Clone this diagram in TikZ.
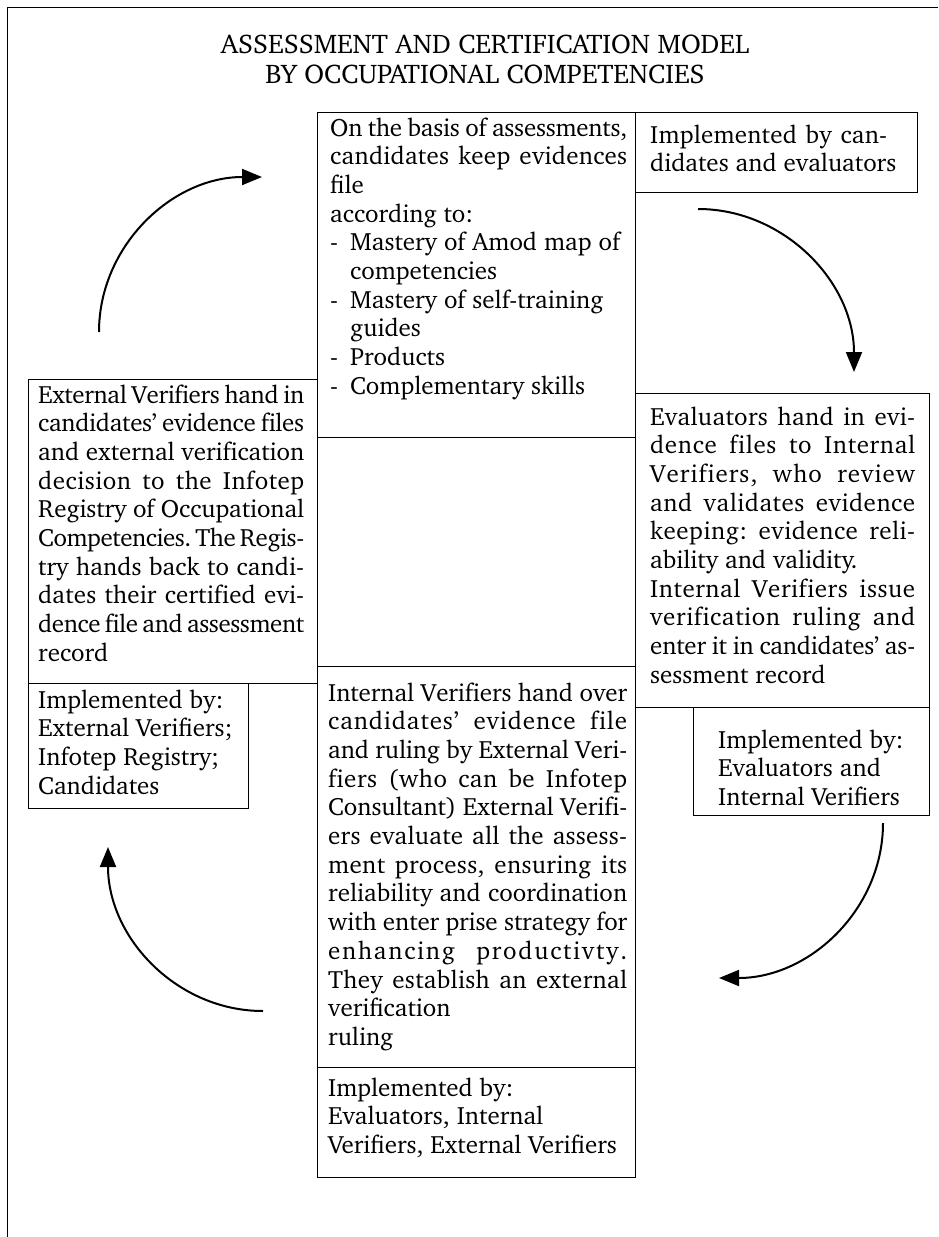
\documentclass[tikz,border=0pt]{standalone}
\usepackage[T1]{fontenc}
\usepackage{charter}
\usetikzlibrary{arrows.meta,calc}
% justified line: the extra room goes to word gaps and, a little, to letter gaps
\newcommand\wordgap{\hskip 0.28em plus 1fil minus 0.16em\relax}
\newcommand\lettergap{\hskip 0pt plus 0.12fil minus 0.025em\relax}
\def\spreadletters#1#2\end{#1\ifx\end#2\end\else\lettergap\spreadletters#2\end\fi}
\def\spreadwords#1 #2\end{\spreadletters#1\end\ifx\end#2\end\else\wordgap\spreadwords#2\end\fi}
\newcommand\jl[1]{\hbox to\hsize{\spreadwords#1 \end}}
% ragged line and dashed list entry
\newcommand\rl[1]{\hbox{#1}}
\newcommand\dashitem{\hbox to 20pt{-\hfil}}
\newcommand\para[2]{\vtop{\hsize=#1\baselineskip=28.7pt\lineskiplimit=-100pt #2}}
\begin{document}
\begin{tikzpicture}[x=1pt,y=-1pt,
  box/.style={draw=black, line width=1.1pt, inner sep=0pt, anchor=north west},
  txt/.style={inner sep=0pt, anchor=base west, font=\fontsize{25}{28.7}\selectfont},
  cyc/.style={line width=2pt, -{Triangle[length=20pt,width=16pt]}},
]
\useasboundingbox (0,0) rectangle (938,1237);
\fill[white] (0,0) rectangle (938,1237);

% page frame: top and left rule only
\coordinate (fTL) at (7,7);
\coordinate (fTR) at (938,7);
\coordinate (fBL) at (7,1237);
\draw[line width=1pt] (fBL) -- (fTL) -- (fTR);

% title
\node[font=\fontsize{27}{30}\selectfont, align=center] (title) at (485,59)
  {ASSESSMENT AND CERTIFICATION MODEL\\BY OCCUPATIONAL COMPETENCIES};

% frames of the stages
\node[box, minimum width=318pt, minimum height=325pt] (boxA) at (317,112) {};
\node[box, minimum width=282pt, minimum height=80pt]  (boxB) at (635,112) {};
\node[box, minimum width=294pt, minimum height=314pt] (boxC) at (635,393) {};
\node[box, minimum width=236pt, minimum height=108pt] (boxD) at (693,707) {};
\node[box, minimum width=289pt, minimum height=304pt] (boxF) at (28,379) {};
\node[box, minimum width=220pt, minimum height=125pt] (boxG) at (28,683) {};
\node[box, minimum width=318pt, minimum height=401pt] (boxE) at (317,666) {};
\node[box, minimum width=318pt, minimum height=110pt] (boxH) at (317,1067) {};

% stage texts
\node[txt] (tA) at (330,136) {\para{297pt}{%
  \jl{On the basis of assessments,}
  \jl{candidates keep evidences}
  \rl{file}
  \rl{according to:}
  \rl{\dashitem Mastery of Amod map of}
  \rl{\kern20pt competencies}
  \rl{\dashitem Mastery of self-training}
  \rl{\kern20pt guides}
  \rl{\dashitem Products}
  \rl{\dashitem Complementary skills}}};

\node[txt] (tB) at (650,143) {\para{237pt}{%
  \jl{Implemented by can-}
  \rl{didates and evaluators}}};

\node[txt] (tC) at (650,425) {\para{265pt}{%
  \jl{Evaluators hand in evi-}
  \jl{dence files to Internal}
  \jl{Verifiers, who review}
  \jl{and validates evidence}
  \jl{keeping: evidence reli-}
  \rl{ability and validity.}
  \jl{Internal Verifiers issue}
  \jl{verification ruling and}
  \jl{enter it in candidates' as-}
  \rl{sessment record}}};

\node[txt] (tD) at (718,748) {\para{200pt}{%
  \rl{Implemented by:}
  \rl{Evaluators and}
  \rl{Internal Verifiers}}};

\node[txt] (tF) at (38,403) {\para{266pt}{%
  \jl{External Verifiers hand in}
  \jl{candidates' evidence files}
  \jl{and external verification}
  \jl{decision to the Infotep}
  \jl{Registry of Occupational}
  \jl{Competencies. The Regis-}
  \jl{try hands back to candi-}
  \jl{dates their certified evi-}
  \jl{dence file and assessment}
  \rl{record}}};

\node[txt] (tG) at (38,708) {\para{200pt}{%
  \rl{Implemented by:}
  \rl{External Verifiers;}
  \rl{Infotep Registry;}
  \rl{Candidates}}};

\node[txt] (tE) at (328,701) {\para{299pt}{%
  \jl{Internal Verifiers hand over}
  \jl{candidates' evidence file}
  \jl{and ruling by External Veri-}
  \jl{fiers (who can be Infotep}
  \jl{Consultant) External Verifi-}
  \jl{ers evaluate all the assess-}
  \jl{ment process, ensuring its}
  \jl{reliability and coordination}
  \jl{with enter prise strategy for}
  \jl{enhancing productivty.}
  \jl{They establish an external}
  \rl{verification}
  \rl{ruling}}};

\node[txt] (tH) at (328,1096) {\para{299pt}{%
  \rl{Implemented by:}
  \rl{Evaluators, Internal}
  \rl{Verifiers, External Verifiers}}};

% cycle arrows between the stages
\coordinate (a1s) at (99,332);  \coordinate (a1e) at (262,177);
\coordinate (a2s) at (698,209); \coordinate (a2e) at (854,372);
\coordinate (a3s) at (883,823); \coordinate (a3e) at (719,978);
\coordinate (a4s) at (263,1011);\coordinate (a4e) at (108,847);
\draw[cyc] (a1s) .. controls (99,246) and (172,177) .. (a1e);
\draw[cyc] (a2s) .. controls (784,209) and (854,282) .. (a2e);
\draw[cyc] (a3s) .. controls (883,909) and (810,978) .. (a3e);
\draw[cyc] (a4s) .. controls (177,1011) and (108,938) .. (a4e);
\end{tikzpicture}
\end{document}
